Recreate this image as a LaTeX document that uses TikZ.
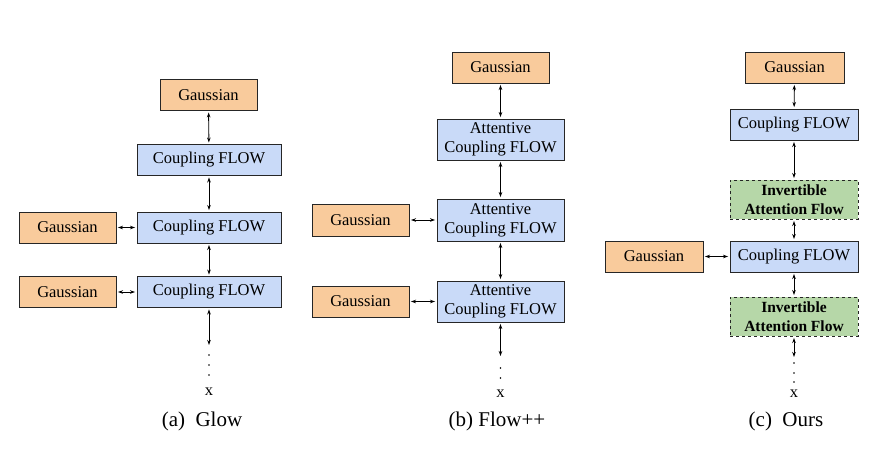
\documentclass[tikz,border=0pt]{standalone}
\usepackage{fontspec}
\setmainfont{Liberation Serif}
\usetikzlibrary{arrows.meta}
\definecolor{gorange}{HTML}{F9CB9C}
\definecolor{gblue}{HTML}{C9DAF8}
\definecolor{ggreen}{HTML}{B6D7A8}
\tikzset{
  box/.style={draw=black!85, line width=0.9pt, rectangle, inner sep=0pt, align=center,
    font=\fontsize{16.5}{19}\selectfont},
  gauss/.style={box, fill=gorange, minimum width=97pt, minimum height=31pt},
  flowbox/.style={box, fill=gblue, minimum width=144pt, minimum height=31pt},
  attbox/.style={box, fill=gblue, minimum width=127pt, minimum height=41pt},
  iafbox/.style={box, fill=ggreen, dashed, minimum width=128pt, minimum height=39pt,
    font=\fontsize{15.5}{19}\selectfont\bfseries},
  link/.style={line width=0.9pt, {Stealth[length=5pt,width=3.5pt]}-{Stealth[length=5pt,width=3.5pt]}, shorten <=1.5pt, shorten >=1.5pt},
  dotty/.style={fill=black, circle, inner sep=0pt, minimum size=1.8pt},
  xlab/.style={font=\fontsize{16.5}{19}\selectfont},
  captext/.style={font=\fontsize{21}{24}\selectfont}
}
\begin{document}
\begin{tikzpicture}[x=1pt,y=-1pt]
\useasboundingbox (0,0) rectangle (879,467);
% ---------- (a) Glow ----------
\node[gauss] (ga) at (208.5,95) {Gaussian};
\node[flowbox] (a1) at (209,160) {Coupling FLOW};
\node[flowbox] (a2) at (209,227.5) {Coupling FLOW};
\node[flowbox] (a3) at (209,292) {Coupling FLOW};
\node[gauss] (gal1) at (67.5,227.5) {Gaussian};
\node[gauss] (gal2) at (67.5,292) {Gaussian};
\coordinate (aend) at (209,345);
\draw[link] (ga) -- (a1);
\draw[link] (a1) -- (a2);
\draw[link] (a2) -- (a3);
\draw[link] (gal1) -- (a2);
\draw[link] (gal2) -- (a3);
\draw[link, shorten >=0pt] (a3) -- (aend);
\node[dotty] (ad1) at (209,355) {};
\node[dotty] (ad2) at (209,365) {};
\node[dotty] (ad3) at (209,375) {};
\node[xlab] (ax) at (209,392) {x};
\node[captext] (acap) at (202,421) {(a)\ \ Glow};
% ---------- (b) Flow++ ----------
\node[gauss] (gb) at (500.5,67.5) {Gaussian};
\node[attbox] (b1) at (500.5,139.5) {Attentive\\Coupling FLOW};
\node[attbox, minimum height=42pt] (b2) at (500.5,220) {Attentive\\Coupling FLOW};
\node[attbox] (b3) at (500.5,301.5) {Attentive\\Coupling FLOW};
\node[gauss, minimum height=32pt] (gbl1) at (360.5,220) {Gaussian};
\node[gauss] (gbl2) at (360.5,301.5) {Gaussian};
\coordinate (bend) at (500.5,356);
\draw[link] (gb) -- (b1);
\draw[link] (b1) -- (b2);
\draw[link] (b2) -- (b3);
\draw[link] (gbl1) -- (b2);
\draw[link] (gbl2) -- (b3);
\draw[link, shorten >=0pt] (b3) -- (bend);
\node[dotty] (bd1) at (500.5,368) {};
\node[dotty] (bd2) at (500.5,378) {};
\node[xlab] (bx) at (500.5,394) {x};
\node[captext] (bcap) at (497,421) {(b) Flow++};
% ---------- (c) Ours ----------
\node[gauss, minimum width=99pt] (gc) at (794.5,67.5) {Gaussian};
\node[flowbox, minimum width=128pt] (c1) at (794,124.5) {Coupling FLOW};
\node[iafbox] (c2) at (794,199.5) {Invertible\\Attention Flow};
\node[flowbox, minimum width=128pt] (c3) at (794,256.5) {Coupling FLOW};
\node[gauss, minimum width=98pt] (gcl) at (654,256.5) {Gaussian};
\node[iafbox] (c4) at (794,316.5) {Invertible\\Attention Flow};
\coordinate (cend) at (794,357);
\draw[link] (gc) -- (c1);
\draw[link] (c1) -- (c2);
\draw[link] (c2) -- (c3);
\draw[link] (c3) -- (c4);
\draw[link] (gcl) -- (c3);
\draw[link, shorten >=0pt] (c4) -- (cend);
\node[dotty] (cd1) at (794,363) {};
\node[dotty] (cd2) at (794,373) {};
\node[dotty] (cd3) at (794,382) {};
\node[xlab] (cx) at (794,394) {x};
\node[captext] (ccap) at (786,421) {(c)\ \ Ours};
\end{tikzpicture}
\end{document}
